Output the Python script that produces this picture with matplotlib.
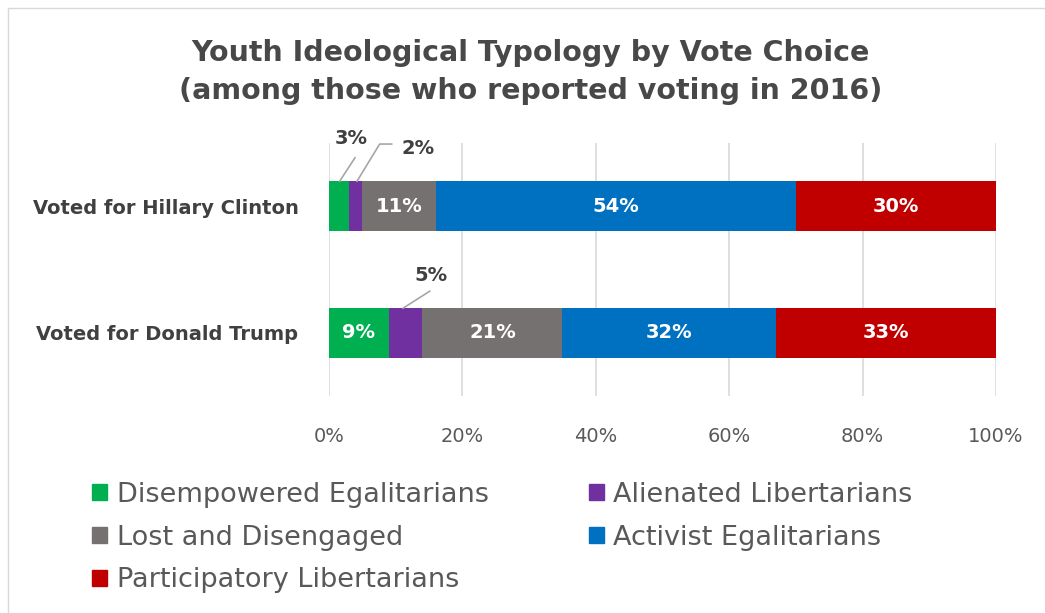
import matplotlib.pyplot as plt
from matplotlib.patches import Rectangle, Patch

# data
groups = ['Voted for Hillary Clinton', 'Voted for Donald Trump']
types = ['Disempowered Egalitarians', 'Alienated Libertarians', 'Lost and Disengaged',
         'Activist Egalitarians', 'Participatory Libertarians']
clinton = [3, 2, 11, 54, 30]
trump = [9, 5, 21, 32, 33]
colors = ['#00b050', '#7030a0', '#767171', '#0070c0', '#c00000']

plt.rcParams['font.family'] = ['DejaVu Sans']

fig = plt.figure(figsize=(10.45, 6.13), dpi=100)
ax = fig.add_axes([0.3148, 0.3532, 0.6383, 0.4143])

values = [clinton, trump]
for gi, vals in enumerate(values):
    left = 0
    for i, v in enumerate(vals):
        ax.barh(gi, v, left=left, height=0.39, color=colors[i], zorder=3)
        if v >= 9:
            ax.text(left + v / 2, gi, f'{v}%', ha='center', va='center',
                    color='white', fontsize=14, fontweight='bold', zorder=4)
        left += v

# labels outside small segments, with leader lines
dark = '#404040'
line_c = '#a6a6a6'
ax.plot([1.6, 3.9], [-0.195, -0.38], color=line_c, lw=1.2, clip_on=False, zorder=4)
ax.text(3.4, -0.53, f'{clinton[0]}%', ha='center', va='center',
        fontsize=14, fontweight='bold', color=dark)
ax.plot([4.2, 7.6, 9.4], [-0.195, -0.488, -0.488], color=line_c, lw=1.2, clip_on=False, zorder=4)
ax.text(13.3, -0.45, f'{clinton[1]}%', ha='center', va='center',
        fontsize=14, fontweight='bold', color=dark)
ax.plot([11.1, 15.1], [0.805, 0.671], color=line_c, lw=1.2, clip_on=False, zorder=4)
ax.text(15.3, 0.545, f'{trump[1]}%', ha='center', va='center',
        fontsize=14, fontweight='bold', color=dark)

ax.set_xlim(0, 100)
ax.set_ylim(1.5, -0.5)
ax.set_xticks(range(0, 101, 20))
ax.set_xticklabels([f'{t}%' for t in range(0, 101, 20)], fontsize=14, color='#595959')
ax.set_yticks([0, 1])
ax.set_yticklabels(groups, fontsize=14, fontweight='bold', color=dark)
ax.tick_params(length=0, axis='y', pad=22)
ax.tick_params(length=0, axis='x', pad=22)
ax.grid(axis='x', color='#d9d9d9', lw=1.2, zorder=0)
for s in ax.spines.values():
    s.set_visible(False)

fig.text(0.508, 0.883, 'Youth Ideological Typology by Vote Choice\n(among those who reported voting in 2016)',
         ha='center', va='center', fontsize=20.5, fontweight='bold', color='#484848',
         linespacing=1.45)

# row-wise legend order with 2 columns
order = [0, 2, 4, 1, 3]
handles = [Patch(color=colors[i]) for i in order]
labels = [types[i] for i in order]
fig.legend(handles, labels, loc='upper left', bbox_to_anchor=(0.083, 0.223), ncol=2,
           frameon=False, fontsize=19.5, labelcolor='#595959', handlelength=0.55,
           handleheight=0.55, handletextpad=0.35, columnspacing=3.7, labelspacing=0.62,
           borderaxespad=0, borderpad=0.2)

fig.patches.append(Rectangle((0.008, -0.05), 1.1, 1.037, transform=fig.transFigure,
                             fill=False, edgecolor='#d9d9d9', lw=1))

plt.savefig('out.png', dpi=100)
plt.close()
